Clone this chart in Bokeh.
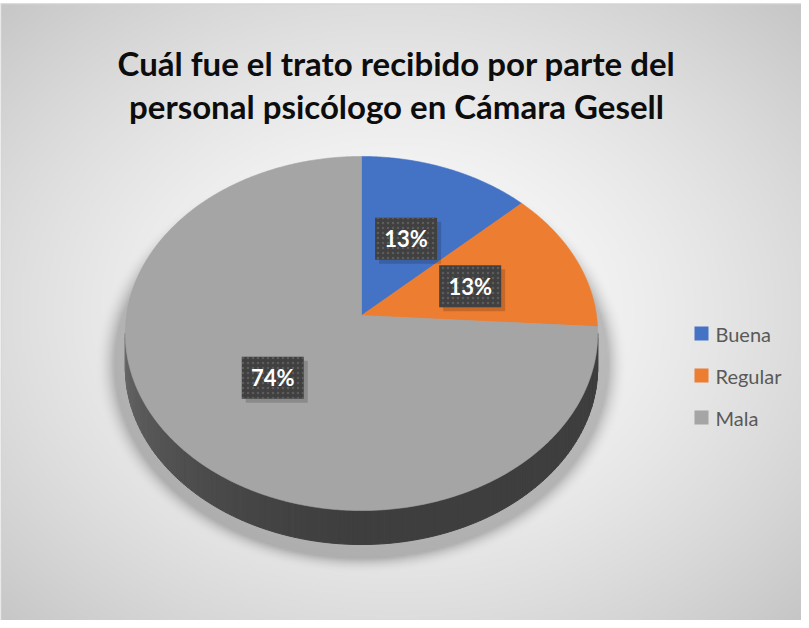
import numpy as np
from bokeh.plotting import figure
from bokeh.models import Range1d
from bokeh.embed import file_html
from bokeh.resources import INLINE
from bokeh.core.properties import value

# ---------------- data ----------------
categories = ["Buena", "Regular", "Mala"]
percentages = [13, 13, 74]
pct_labels = ["13%", "13%", "74%"]
colors = ["#4472C4", "#ED7D31", "#A5A5A5"]
title_lines = ["Cuál fue el trato recibido por parte del",
               "personal psicólogo en Cámara Gesell"]

# ---------------- layout ----------------
W, H = 801, 620
OX, OY = 8, 8


def DX(sx):
    return np.asarray(sx, dtype=float) - OX


def DY(sy):
    return (H + OY) - np.asarray(sy, dtype=float)


p = figure(width=W, height=H, x_range=Range1d(0, W), y_range=Range1d(0, H),
           output_backend="svg", toolbar_location=None, min_border=0)
p.axis.visible = False
p.grid.visible = False
p.outline_line_color = None
p.background_fill_color = "white"
p.border_fill_color = "white"

# ---------------- background (radial gradient + pie shadow) ----------------
CH_X0, CH_X1, CH_Y0, CH_Y1 = 8, 809, 11, 628
nx, ny = 401, 309
sx = CH_X0 + (np.arange(nx) + 0.5) * (CH_X1 - CH_X0) / nx
sy = CH_Y0 + (np.arange(ny) + 0.5) * (CH_Y1 - CH_Y0) / ny
GX, GY = np.meshgrid(sx, sy)
d = np.sqrt(((GX - 405) / 400.0) ** 2 + ((GY - 320) / 310.0) ** 2) / np.sqrt(2)
val = 253 - 55 * np.clip(d, 0, 1.2) ** 1.5
de = np.sqrt(((GX - 369) / 247.0) ** 2 + ((GY - 372) / 194.0) ** 2)
sh = np.clip(1 - (de - 1.0) / 0.08, 0, 1) ** 2
val = val - 55 * sh
val = np.clip(val, 0, 255).astype(np.uint8)
rgba = np.zeros((ny, nx, 4), dtype=np.uint8)
rgba[..., 0] = val
rgba[..., 1] = val
rgba[..., 2] = val
rgba[..., 3] = 255
img = rgba.view(dtype=np.uint32).reshape((ny, nx))[::-1].copy()
p.image_rgba(image=[img], x=0, y=0, dw=CH_X1 - CH_X0, dh=CH_Y1 - CH_Y0)

# chart border
p.line(DX([CH_X0, CH_X1]), DY([CH_Y0 + 0.5, CH_Y0 + 0.5]), line_color="#d4d4d4", line_width=1)
p.line(DX([CH_X0 + 0.5, CH_X0 + 0.5]), DY([CH_Y0, CH_Y1]), line_color="#d4d4d4", line_width=1)

# ---------------- 3D pie ----------------
CX, CY, A, B, K = 369.0, 323.0, 235.0, 175.2, 0.1017
DEPTH = 34.0


def proj(theta, f=1.0):
    t = np.radians(theta)
    u = f * np.sin(t)
    v = f * np.cos(t)
    return CX + A * u / (1 + K * v), CY - B * v / (1 + K * v)


total = float(sum(percentages))
bounds = np.concatenate([[0.0], np.cumsum(percentages) / total * 360.0])


def hex_scale(h, f):
    h = h.lstrip("#")
    r, g, b = int(h[0:2], 16), int(h[2:4], 16), int(h[4:6], 16)
    return "#%02x%02x%02x" % (min(255, int(r * f)), min(255, int(g * f)), min(255, int(b * f)))


# side wall
tR = np.degrees(np.arccos(-K))
tL = 360.0 - tR
edges = np.linspace(tR, tL, 120)
side_xs, side_ys, side_cols = [], [], []
for t0, t1 in zip(edges[:-1], edges[1:]):
    tm = 0.5 * (t0 + t1)
    idx = int(np.searchsorted(bounds, tm) - 1)
    idx = min(max(idx, 0), len(colors) - 1)
    x0, y0 = proj(t0)
    x1, y1 = proj(t1)
    fac = 0.38 + 0.26 * max(0.0, (tm - 180.0) / (tL - 180.0)) ** 1.5
    side_xs.append(DX([x0, x1, x1, x0]))
    side_ys.append(DY([y0, y1, y1 + DEPTH, y0 + DEPTH]))
    side_cols.append(hex_scale(colors[idx], fac))
p.patches(side_xs, side_ys, fill_color=side_cols, line_color=side_cols, line_width=1)

# top faces
top_xs, top_ys = [], []
for i in range(len(percentages)):
    th = np.linspace(bounds[i], bounds[i + 1], max(3, int((bounds[i + 1] - bounds[i]) * 2)))
    px, py = proj(th)
    top_xs.append(DX(np.concatenate([[CX], px])))
    top_ys.append(DY(np.concatenate([[CY], py])))
p.patches(top_xs, top_ys, fill_color=colors, line_color=colors, line_width=0.6)

# data labels
mids = 0.5 * (bounds[:-1] + bounds[1:])
lx, ly = proj(mids, 0.5)
BW, BH = 62, 42
p.rect(DX(lx + 4), DY(ly + 4), width=BW, height=BH, fill_color="#000000",
       fill_alpha=0.16, line_color=None)
p.rect(DX(lx), DY(ly), width=BW, height=BH, fill_color="#404040", line_color=None,
       hatch_pattern="dot", hatch_color="#5c5c5c", hatch_scale=5, hatch_weight=2)
p.text(DX(lx), DY(ly), text=pct_labels, text_color="white",
       text_font=value("Lato"), text_font_style="bold", text_font_size="22px",
       text_align="center", text_baseline="middle")

# ---------------- title ----------------
p.text(DX([404, 404]), DY([70, 113]), text=title_lines, text_color="#0d0d0d",
       text_font=value("Lato"), text_font_style="bold", text_font_size="33px",
       text_align="center", text_baseline="alphabetic")

# ---------------- legend ----------------
leg_y = np.array([341.0, 383.0, 425.0])
p.rect(DX(np.full(3, 709.0)), DY(leg_y), width=14, height=14,
       fill_color=colors, line_color=None)
p.text(DX(np.full(3, 723.0)), DY(leg_y), text=categories, text_color="#595959",
       text_font=value("Lato"), text_font_size="20px",
       text_align="left", text_baseline="middle")

open("out.html", "w").write(file_html(p, INLINE))
